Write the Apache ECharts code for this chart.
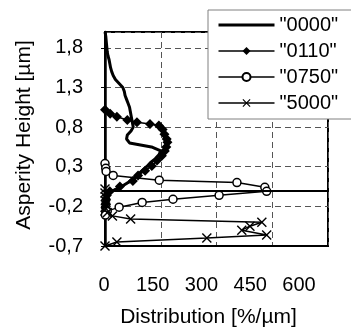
<!DOCTYPE html>
<html><head><meta charset="utf-8">
<script src="https://cdn.jsdelivr.net/npm/echarts@6/dist/echarts.min.js"></script>
<style>html,body{margin:0;padding:0;background:#fff}#c{width:351px;height:333px}</style>
</head><body><div id="c"></div>
<script>
const seriesNames = ['"0000"', '"0110"', '"0750"', '"5000"'];
const xTicks = [0, 150, 300, 450, 600];
const yTicks = [-0.7, -0.2, 0.3, 0.8, 1.3, 1.8];
const yTop = 2.0;

const heights0000 = [2.0,1.95,1.9,1.85,1.8,1.75,1.7,1.65,1.6,1.55,1.5,1.45,1.4,1.35,1.3,1.25,1.2,1.15,1.1,1.05,1.0,0.95,0.9,0.85,0.8,0.75,0.7,0.65,0.6,0.55,0.5,0.45,0.4,0.35,0.3,0.25,0.2,0.15,0.1,0.05,0.0,-0.05,-0.1,-0.15,-0.2,-0.25,-0.3];
const dist0000 = [0,2,3,4,5,6,8,11,13,15,18,22,28,38,48,52,54,58,62,66,68,70,72,74,76,70,60,58,66,125,150,145,135,122,112,100,88,75,62,45,22,8,4,2,1,0,0];

const heights0110 = [1.02,0.97,0.93,0.89,0.86,0.84,0.82,0.77,0.71,0.65,0.61,0.55,0.5,0.44,0.38,0.31,0.25,0.19,0.12,0.05,-0.01,-0.06,-0.11,-0.16,-0.21,-0.26,-0.31];
const dist0110 = [0,14,32,60,86,121,145,155,160,166,168,165,161,153,140,126,108,89,75,40,13,5,3,2,1,0,0];

const heights0750 = [0.34,0.28,0.24,0.19,0.13,0.1,0.04,-0.01,-0.06,-0.11,-0.15,-0.21,-0.26,-0.31];
const dist0750 = [0,2,3,22,146,355,430,435,307,183,100,38,6,1];

const heights5000 = [0.02,-0.03,-0.08,-0.13,-0.18,-0.23,-0.28,-0.32,-0.36,-0.4,-0.45,-0.5,-0.56,-0.6,-0.65,-0.7];
const dist5000 = [0,0,1,1,2,3,6,20,69,422,390,368,435,274,32,0];

const FONT = 'Liberation Sans, Arial, sans-serif';
const pairs = (xs, ys) => xs.map((x, i) => [x, ys[i]]);
const crossPath = 'path://M0,1 L1,0 L5,4 L9,0 L10,1 L6,5 L10,9 L9,10 L5,6 L1,10 L0,9 L4,5 Z';
const dashed = { color: '#555', type: [6, 4], width: 1 };

const chart = echarts.init(document.getElementById('c'), null, { renderer: 'canvas' });
chart.setOption({
  animation: false,
  backgroundColor: '#fff',
  textStyle: { fontFamily: FONT },
  grid: [
    { left: 105, top: 32, width: 223, height: 216, show: true, borderColor: '#000', borderWidth: 2, backgroundColor: 'transparent' },
    { left: 104, top: 32, width: 195, height: 216 }
  ],
  xAxis: [
    { gridIndex: 0, type: 'value', min: xTicks[0], max: xTicks[xTicks.length - 1], interval: xTicks[1] - xTicks[0],
      axisLine: { show: true, onZero: false, lineStyle: { color: '#000', width: 2 } },
      axisTick: { show: false }, axisLabel: { show: false },
      splitLine: { show: true, lineStyle: dashed },
      name: 'Distribution [%/µm]', nameLocation: 'middle', nameGap: 61,
      nameTextStyle: { fontSize: 21, color: '#000', fontFamily: FONT, padding: [0, 16, 0, 0] } },
    { gridIndex: 1, type: 'value', min: xTicks[0], max: xTicks[xTicks.length - 1], interval: xTicks[1] - xTicks[0],
      axisLine: { show: false, onZero: false }, axisTick: { show: false }, splitLine: { show: false },
      axisLabel: { fontSize: 20, color: '#000', margin: 27, fontFamily: FONT } }
  ],
  yAxis: [
    { gridIndex: 0, type: 'value', min: yTicks[0], max: yTop, interval: yTicks[1] - yTicks[0],
      axisLine: { show: true, onZero: false, lineStyle: { color: '#000', width: 2.5 } },
      axisTick: { show: true, length: 4, lineStyle: { color: '#000', width: 1 } },
      axisLabel: { fontSize: 20, color: '#000', margin: 22, fontFamily: FONT, showMaxLabel: false,
        formatter: v => v.toFixed(1).replace('.', ',') },
      splitLine: { show: true, lineStyle: dashed },
      name: 'Asperity Height [µm]', nameLocation: 'middle', nameGap: 70, nameRotate: 90,
      nameTextStyle: { fontSize: 21, color: '#000', fontFamily: FONT, padding: [0, 0, 0, 8] } },
    { gridIndex: 1, type: 'value', show: false, min: 0, max: 1 }
  ],
  legend: {
    data: [
      { name: seriesNames[0], itemStyle: { opacity: 0 }, lineStyle: { width: 3 } },
      { name: seriesNames[1], lineStyle: { width: 1.5 } },
      { name: seriesNames[2], lineStyle: { width: 1.5 } },
      { name: seriesNames[3], lineStyle: { width: 1.5 } }
    ],
    orient: 'vertical', left: 208, top: 10,
    itemWidth: 56, itemHeight: 10, itemGap: 6,
    padding: [5, 60, 6, 9],
    backgroundColor: '#fff', borderColor: '#808080', borderWidth: 1,
    textStyle: { fontSize: 20, color: '#000', fontFamily: FONT },
    z: 10
  },
  series: [
    { name: seriesNames[0], type: 'line', xAxisIndex: 0, yAxisIndex: 0, data: pairs(dist0000, heights0000),
      symbol: 'none', clip: false, lineStyle: { color: '#000', width: 3 }, itemStyle: { color: '#000' },
      markLine: { silent: true, symbol: 'none', label: { show: false },
        lineStyle: { color: '#000', width: 2, type: 'solid' }, data: [{ yAxis: 0 }] } },
    { name: seriesNames[1], type: 'line', xAxisIndex: 0, yAxisIndex: 0, data: pairs(dist0110, heights0110),
      symbol: 'diamond', symbolSize: 10, clip: false, lineStyle: { color: '#000', width: 1.5 }, itemStyle: { color: '#000' } },
    { name: seriesNames[2], type: 'line', xAxisIndex: 0, yAxisIndex: 0, data: pairs(dist0750, heights0750),
      symbol: 'circle', symbolSize: 8, clip: false, lineStyle: { color: '#000', width: 1.5 },
      itemStyle: { color: '#fff', borderColor: '#000', borderWidth: 1.5 } },
    { name: seriesNames[3], type: 'line', xAxisIndex: 0, yAxisIndex: 0, data: pairs(dist5000, heights5000),
      symbol: crossPath, symbolSize: 10, clip: false, lineStyle: { color: '#000', width: 1.5 }, itemStyle: { color: '#000' } }
  ]
});
</script></body></html>
